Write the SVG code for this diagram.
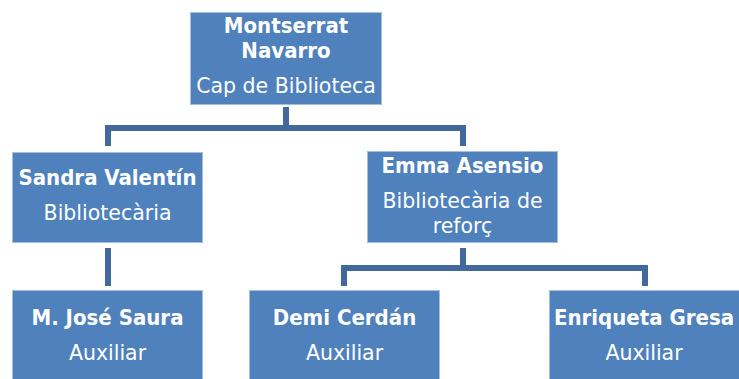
<svg xmlns="http://www.w3.org/2000/svg" width="739" height="379" viewBox="0 0 739 379">
<style>
.box{fill:#4F81BD;stroke:#A7BEDD;stroke-width:1}
.conn{fill:none;stroke:#41699C;stroke-width:6;stroke-linecap:butt;stroke-linejoin:miter}
text{fill:#FFFFFF;text-anchor:middle}
.n{font-family:"DejaVu Sans Condensed","DejaVu Sans",sans-serif;font-weight:bold;font-size:22px}
.r{font-family:"DejaVu Sans",sans-serif;font-size:20.5px}
</style>
<rect width="739" height="379" fill="#FFFFFF"/>
<g id="connectors">
<path class="conn" d="M286,107 V128 M108,146 V128 H463 V146"/>
<path class="conn" d="M108,248 V286"/>
<path class="conn" d="M463,248 V268 M344,286 V268 H645 V286"/>
</g>
<g id="montserrat">
<rect class="box" x="190.5" y="12.5" width="191" height="92"/>
<text class="n" x="286" y="33">Montserrat</text>
<text class="n" x="286" y="58">Navarro</text>
<text class="r" x="286" y="93">Cap de Biblioteca</text>
</g>
<g id="sandra">
<rect class="box" x="12.5" y="152.5" width="190" height="90"/>
<text class="n" x="107.5" y="185">Sandra Valentín</text>
<text class="r" x="107.5" y="220">Bibliotecària</text>
</g>
<g id="emma">
<rect class="box" x="367.5" y="151.5" width="190" height="91"/>
<text class="n" x="462.5" y="173">Emma Asensio</text>
<text class="r" x="462.5" y="208">Bibliotecària de</text>
<text class="r" x="462.5" y="233">reforç</text>
</g>
<g id="mjose">
<rect class="box" x="12.5" y="290.5" width="190" height="95"/>
<text class="n" x="107.5" y="325">M. José Saura</text>
<text class="r" x="107.5" y="360">Auxiliar</text>
</g>
<g id="demi">
<rect class="box" x="249.5" y="290.5" width="190" height="95"/>
<text class="n" x="344.5" y="325">Demi Cerdán</text>
<text class="r" x="344.5" y="360">Auxiliar</text>
</g>
<g id="enriqueta">
<rect class="box" x="549.5" y="290.5" width="195" height="95"/>
<text class="n" x="644" y="325">Enriqueta Gresa</text>
<text class="r" x="644" y="360">Auxiliar</text>
</g>
</svg>
